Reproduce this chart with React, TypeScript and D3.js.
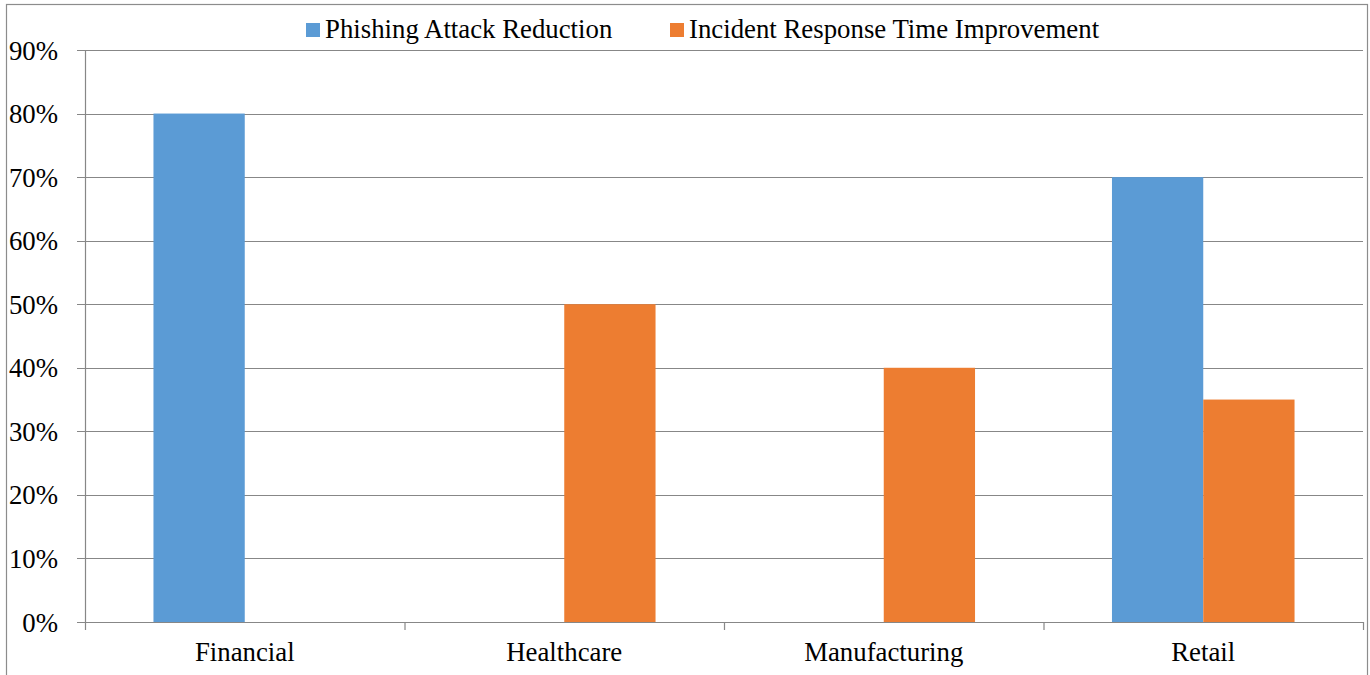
import React from "react";
import * as d3 from "d3";

const categories = ["Financial", "Healthcare", "Manufacturing", "Retail"];
const seriesNames = ["Phishing Attack Reduction", "Incident Response Time Improvement"];
const phishingReduction = [0.8, 0, 0, 0.7];
const responseImprovement = [0, 0.5, 0.4, 0.35];
const yTicks = [0, 0.1, 0.2, 0.3, 0.4, 0.5, 0.6, 0.7, 0.8, 0.9];
const colors = ["#5B9BD5", "#ED7D31"];

const W = 1370;
const H = 675;
const left = 85;
const right = 1363;
const top = 50;
const bottom = 622;
const font = "'Liberation Serif', 'Times New Roman', serif";
const fs = 26.8;
const gridColor = "#878787";

export default function App() {
  const x = d3.scaleBand<string>().domain(categories).range([left, right]);
  const y = d3.scaleLinear().domain([0, 0.9]).range([bottom, top]);
  const barW = x.bandwidth() / 3.5;
  const series = [phishingReduction, responseImprovement];
  const fmt = d3.format(".0%");

  return (
    <svg width={W} height={H} style={{ position: "absolute", left: 0, top: 0, background: "#fff" }}>
      <rect x={6.5} y={4.5} width={1361} height={700} fill="none" stroke="#8c8c8c" strokeWidth={1.2} />
      {yTicks.map((t) => (
        <g key={t}>
          <line x1={left - 8} x2={right} y1={Math.round(y(t)) + 0.5} y2={Math.round(y(t)) + 0.5} stroke={gridColor} strokeWidth={1.2} />
          <text x={58} y={y(t) + 9.5} textAnchor="end" fontFamily={font} fontSize={fs} fill="#000">
            {fmt(t)}
          </text>
        </g>
      ))}
      {series.map((vals, si) =>
        vals.map((v, ci) => {
          const cx = (x(categories[ci]) as number) + x.bandwidth() / 2;
          const bx = si === 0 ? cx - barW : cx;
          return v > 0 ? (
            <rect key={`${si}-${ci}`} x={bx} y={y(v)} width={barW} height={bottom - y(v)} fill={colors[si]} />
          ) : null;
        })
      )}
      <line x1={left + 0.5} x2={left + 0.5} y1={top} y2={bottom} stroke={gridColor} strokeWidth={1.2} />
      <line x1={left} x2={right} y1={bottom + 0.5} y2={bottom + 0.5} stroke={gridColor} strokeWidth={1.2} />
      {[...categories.map((c) => x(c) as number), right].map((tx, i) => (
        <line key={i} x1={tx + 0.5} x2={tx + 0.5} y1={bottom} y2={bottom + 8} stroke={gridColor} strokeWidth={1.2} />
      ))}
      {categories.map((c) => (
        <text key={c} x={(x(c) as number) + x.bandwidth() / 2} y={661} textAnchor="middle" fontFamily={font} fontSize={fs} fill="#000">
          {c}
        </text>
      ))}
      <g>
        <rect x={306} y={23} width={14} height={14} fill={colors[0]} />
        <text x={325} y={38} fontFamily={font} fontSize={fs} fill="#000">{seriesNames[0]}</text>
        <rect x={670} y={23} width={14} height={14} fill={colors[1]} />
        <text x={689} y={38} fontFamily={font} fontSize={fs} fill="#000">{seriesNames[1]}</text>
      </g>
    </svg>
  );
}
